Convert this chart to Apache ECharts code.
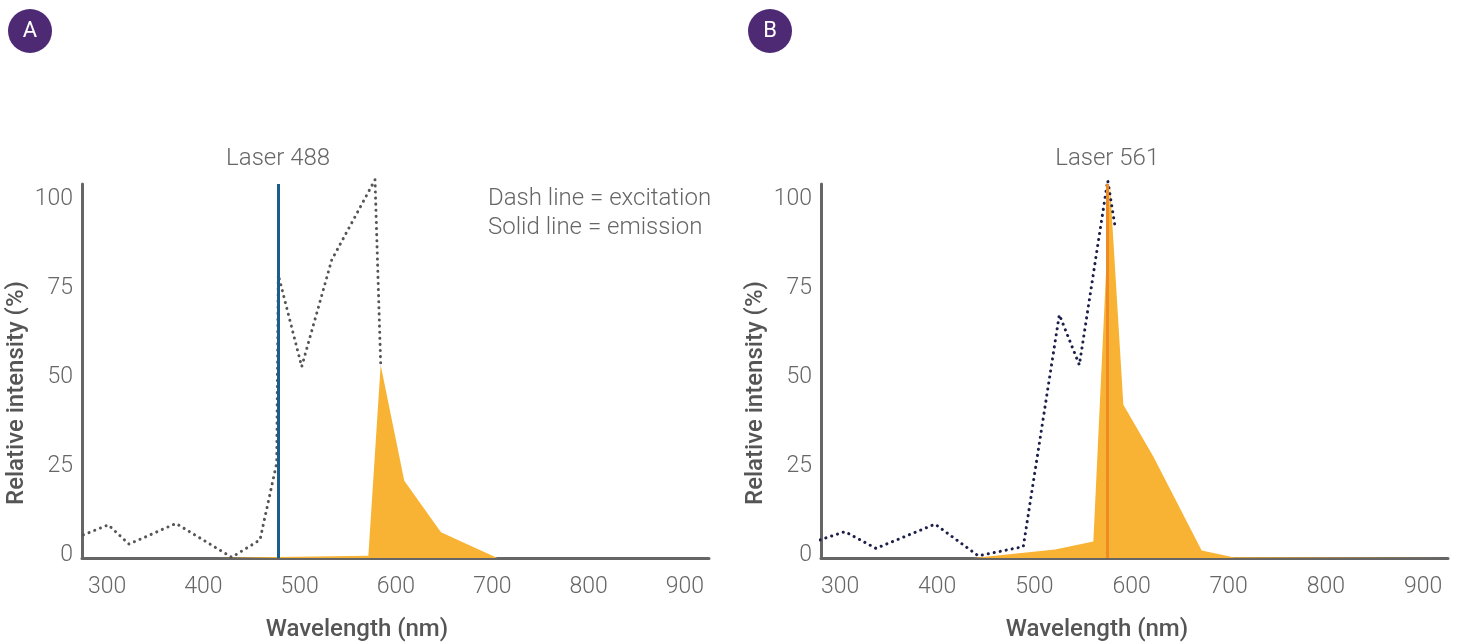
<!DOCTYPE html>
<html>
<head>
<meta charset="utf-8">
<script src="https://cdn.jsdelivr.net/npm/echarts@6/dist/echarts.min.js"></script>
<style>html,body{margin:0;padding:0;background:#fff}#c{width:1457px;height:644px}</style>
</head>
<body>
<div id="c"></div>
<script>
// ---- data ----
const xTickLabels = [300, 400, 500, 600, 700, 800, 900];
const yTickLabels = [0, 25, 50, 75, 100];

// Panel A (Laser 488)
const excitationA_nm  = [275.4, 301.3, 322.8, 371.6, 429.4, 458.8, 476.2, 477.8, 502.1, 533.3, 578.2, 584.1];
const excitationA_val = [6.5,   9.3,   3.9,   9.7,   0.2,   5.1,   26.7,  79.5,  53.7,  83.7,  106.2, 54.2];
const emissionA_nm    = [413.9, 477.5, 571.3, 584.1, 608.6, 646.7, 705.2, 925];
const emissionA_val   = [0,     0.3,   0.6,   54.2,  21.7,  7.2,   0,     0];
const laserA_nm = 477.6;
const laserA_label = 'Laser 488';

// Panel B (Laser 561)
const excitationB_nm  = [279.4, 305.1, 337.0, 397.8, 442.3, 488.6, 525.7, 546.3, 575.5, 583.0];
const excitationB_val = [5.1,   7.4,   2.7,   9.5,   0.6,   3.2,   68.3,  54.2,  106.0, 93.1];
const emissionB_nm    = [437.2, 521.3, 560.7, 577.9, 591.6, 622.4, 672.2, 704.8, 925];
const emissionB_val   = [0,     2.4,   4.6,   104.3, 43.0,  28.5,  2.1,   0.2,   0];
const laserB_nm = 575.0;
const laserB_label = 'Laser 561';

const zip = (a, b) => a.map((v, i) => [v, b[i]]);

const FONT = 'Roboto, "Liberation Sans", sans-serif';
const AX = '#666666';

function xAxis(idx, min, max) {
  return {
    gridIndex: idx, type: 'value', min: min, max: max,
    axisLine: { show: true, lineStyle: { color: AX, width: 3 } },
    axisTick: { show: false },
    splitLine: { show: false },
    axisLabel: { customValues: xTickLabels, color: AX, fontSize: 23, fontFamily: FONT, fontWeight: 300, margin: 18 }
  };
}
function yAxis(idx) {
  return {
    gridIndex: idx, type: 'value', min: 0, max: 105,
    axisLine: { show: true, lineStyle: { color: AX, width: 3 } },
    axisTick: { show: false },
    splitLine: { show: false },
    axisLabel: { customValues: yTickLabels, color: AX, fontSize: 23, fontFamily: FONT, fontWeight: 300, margin: 9,
                 verticalAlign: 'bottom', lineHeight: 5 }
  };
}
function laserLine(nm, label, color) {
  return {
    silent: true, symbol: 'none',
    lineStyle: { color: color, width: 3, type: 'solid' },
    label: { show: true, position: 'end', formatter: label, color: AX, fontSize: 24, fontFamily: FONT, fontWeight: 300, distance: 13 },
    data: [{ xAxis: nm }]
  };
}

const chart = echarts.init(document.getElementById('c'), null, { renderer: 'canvas' });
chart.setOption({
  animation: false,
  backgroundColor: '#ffffff',
  grid: [
    { left: 82, top: 184, width: 627, height: 374 },
    { left: 821, top: 184, width: 627, height: 374 }
  ],
  xAxis: [xAxis(0, 274, 925), xAxis(1, 280.4, 925.7)],
  yAxis: [yAxis(0), yAxis(1)],
  series: [
    { type: 'line', xAxisIndex: 0, yAxisIndex: 0, data: zip(emissionA_nm, emissionA_val), symbol: 'none', clip: false,
      lineStyle: { width: 0 }, areaStyle: { color: '#F8B334', opacity: 1 }, z: 2,
      markLine: laserLine(laserA_nm, laserA_label, '#1B5E8C') },
    { type: 'line', xAxisIndex: 0, yAxisIndex: 0, data: zip(excitationA_nm, excitationA_val), symbol: 'none', clip: false,
      lineStyle: { color: '#555555', width: 3, type: [0.1, 6], cap: 'round' }, z: 3 },
    { type: 'line', xAxisIndex: 1, yAxisIndex: 1, data: zip(emissionB_nm, emissionB_val), symbol: 'none', clip: false,
      lineStyle: { width: 0 }, areaStyle: { color: '#F8B334', opacity: 1 }, z: 2,
      markLine: laserLine(laserB_nm, laserB_label, '#F08A24') },
    { type: 'line', xAxisIndex: 1, yAxisIndex: 1, data: zip(excitationB_nm, excitationB_val), symbol: 'none', clip: false,
      lineStyle: { color: '#1C1F4A', width: 3, type: [0.1, 6], cap: 'round' }, z: 3 }
  ],
  graphic: [
    { type: 'circle', shape: { cx: 30, cy: 31, r: 22 }, style: { fill: '#4E2A75' } },
    { type: 'text', x: 30, y: 31, style: { text: 'A', fill: '#fff', font: '400 22px ' + FONT, align: 'center', verticalAlign: 'middle' } },
    { type: 'circle', shape: { cx: 770, cy: 31, r: 22 }, style: { fill: '#4E2A75' } },
    { type: 'text', x: 770, y: 31, style: { text: 'B', fill: '#fff', font: '400 22px ' + FONT, align: 'center', verticalAlign: 'middle' } },
    { type: 'text', x: 488, y: 199, style: { text: 'Dash line = excitation', fill: AX, font: '300 24px ' + FONT, align: 'left', verticalAlign: 'middle' } },
    { type: 'text', x: 488, y: 228, style: { text: 'Solid line = emission', fill: AX, font: '300 24px ' + FONT, align: 'left', verticalAlign: 'middle' } },
    { type: 'text', x: 357, y: 630, style: { text: 'Wavelength (nm)', fill: '#555', font: '500 24px ' + FONT, align: 'center', verticalAlign: 'middle' } },
    { type: 'text', x: 1097, y: 630, style: { text: 'Wavelength (nm)', fill: '#555', font: '500 24px ' + FONT, align: 'center', verticalAlign: 'middle' } },
    { type: 'text', x: 17, y: 393, rotation: Math.PI / 2, style: { text: 'Relative intensity (%)', fill: '#555', font: '500 24px ' + FONT, align: 'center', verticalAlign: 'middle' } },
    { type: 'text', x: 756, y: 393, rotation: Math.PI / 2, style: { text: 'Relative intensity (%)', fill: '#555', font: '500 24px ' + FONT, align: 'center', verticalAlign: 'middle' } }
  ]
});
</script>
</body>
</html>
